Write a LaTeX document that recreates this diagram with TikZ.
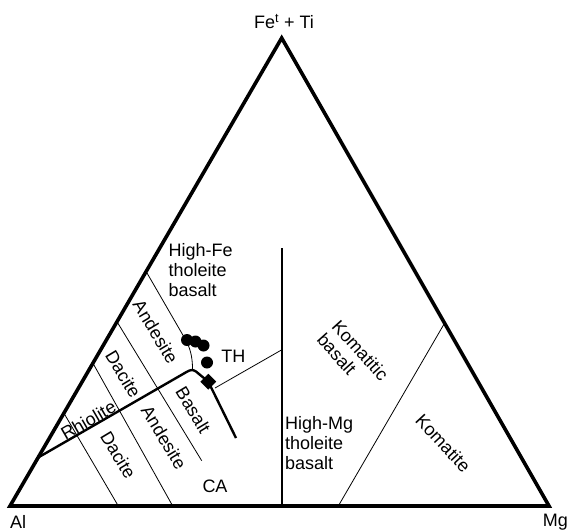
\documentclass[tikz,border=0pt]{standalone}
\usepackage{fontspec}
\setmainfont{Liberation Sans}
\usetikzlibrary{shapes.geometric}
\begin{document}
\begin{tikzpicture}[x=1pt,y=-1pt,
  lbl/.style={inner sep=0pt, font=\fontsize{18}{20}\selectfont},
  thinln/.style={line width=0.8pt},
  midln/.style={line width=2pt},
  boldln/.style={line width=2.4pt, line join=round},
  sideln/.style={line width=3.6pt, line join=miter},
  dot/.style={circle, fill=black, inner sep=0pt, minimum size=12pt},
]
\useasboundingbox (0,0) rectangle (567,532);
% corners
\coordinate (Al) at (10,506);
\coordinate (Mg) at (549,506);
\coordinate (Fe) at (281.7,38);
% boundary points
\coordinate (hf1) at (147,273);
\coordinate (hf2) at (184,337);
\coordinate (hf3) at (192.5,369);
\coordinate (l2a) at (117,321.7);
\coordinate (l2b) at (201.7,460.7);
\coordinate (l3a) at (93,363.3);
\coordinate (l3b) at (172.7,506);
\coordinate (l4a) at (64,413.3);
\coordinate (l4b) at (118.3,506);
\coordinate (tk1) at (38.5,457.3);
\coordinate (tk2) at (186.5,372);
\coordinate (tk3) at (196,371.5);
\coordinate (tk4) at (236,438);
\coordinate (th1) at (215,388);
\coordinate (th2) at (282.3,349.5);
\coordinate (vt) at (282.3,248);
\coordinate (vb) at (282.3,506);
\coordinate (ka) at (338.3,506);
\coordinate (kb) at (444.6,323.1);

% lines
\draw[thinln] (hf1) -- (hf2) .. controls (190,347) and (192.5,356) .. (hf3);
\draw[thinln] (l2a) -- (l2b);
\draw[thinln] (l3a) -- (l3b);
\draw[thinln] (l4a) -- (l4b);
\draw[thinln] (th1) -- (th2);
\draw[thinln] (ka) -- (kb);
\draw[midln] (vt) -- (vb);

\node[diamond, fill=black, inner sep=0pt, minimum size=16pt] (dia) at (208.3,381.7) {};
\draw[boldln] (tk1) -- (tk2) .. controls (190.5,369.5) and (193,369.5) .. (tk3) -- (dia.center) -- (tk4);

\node[dot] (p1) at (187,340) {};
\node[dot] (p2) at (195.5,341.5) {};
\node[dot] (p3) at (203.5,345.5) {};
\node[dot] (p4) at (207,362.5) {};

\draw[sideln] (Al) -- (Mg) -- (Fe) -- cycle;

% labels
\node[lbl, anchor=base] (tFe) at (284,28.3) {Fe\textsuperscript{t} + Ti};
\node[lbl, anchor=base west] (tAl) at (10,528) {Al};
\node[lbl, anchor=base west] (tMg) at (542.7,526.7) {Mg};
\node[lbl, align=left, anchor=west] (tHFe) at (168.5,270) {High-Fe\\tholeite\\basalt};
\node[lbl, align=left, anchor=west] (tHMg) at (285,443.3) {High-Mg\\tholeite\\basalt};
\node[lbl] (tTH) at (233.3,356.7) {TH};
\node[lbl] (tCA) at (215,486.7) {CA};
\node[lbl, rotate=-59] (tAnd1) at (155.8,331.7) {Andesite};
\node[lbl, rotate=-59] (tDac1) at (123.3,374.3) {Dacite};
\node[lbl, rotate=30] (tRhi) at (88.3,420) {Rhiolite};
\node[lbl, rotate=-59] (tBas) at (193.3,410) {Basalt};
\node[lbl, rotate=-59] (tAnd2) at (164,437.3) {Andesite};
\node[lbl, rotate=-59] (tDac2) at (118.3,455) {Dacite};
\node[lbl, align=left, rotate=-48] (tKb) at (353,357) {Komatitic\\basalt};
\node[lbl, rotate=-47] (tKo) at (443.3,443.3) {Komatite};
\end{tikzpicture}
\end{document}
